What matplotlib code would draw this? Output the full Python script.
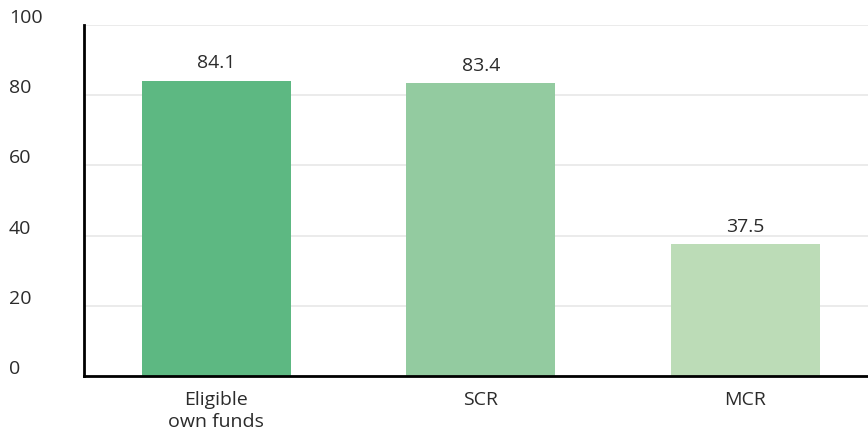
import matplotlib
matplotlib.use("Agg")
import matplotlib.pyplot as plt
import matplotlib.transforms as mtransforms

categories = ["Eligible\nown funds", "SCR", "MCR"]
values = [84.1, 83.4, 37.5]
colors = ["#5db882", "#93cba0", "#bcdcb7"]
yticks = [0, 20, 40, 60, 80, 100]

plt.rcParams['font.family'] = ['Open Sans', 'DejaVu Sans']

fig = plt.figure(figsize=(8.68, 4.36), dpi=100)
ax = fig.add_axes([84/868, 1 - 376/436, (868-84)/868, (376-25)/436])

x = range(len(categories))
ax.bar(x, values, width=0.565, color=colors, zorder=3)
for xi, v in zip(x, values):
    ax.annotate(f"{v}", (xi, v), xytext=(0, 6), textcoords="offset points",
                ha="center", va="bottom", fontsize=14, color="#2b2b2b")

ax.set_xlim(-0.5, 2.464)
ax.set_ylim(0, 100)
ax.set_yticks(yticks)
ax.set_yticklabels([])
ax.tick_params(axis='y', length=0)
ax.tick_params(axis='x', length=0, pad=11)
ax.set_xticks(list(x))
ax.set_xticklabels(categories, fontsize=14, color="#2b2b2b", linespacing=1.25)
ax.grid(axis='y', color="#e8e8e8", linewidth=1.2, zorder=0)

trans = mtransforms.blended_transform_factory(fig.transFigure, ax.transData)
offset = mtransforms.ScaledTranslation(0, 7/100, fig.dpi_scale_trans)
for t in yticks:
    fig.text(9/868, t, str(t), transform=trans + offset, ha="left", va="center",
             fontsize=14, color="#2b2b2b")

for s in ["top", "right"]:
    ax.spines[s].set_visible(False)
for s in ["left", "bottom"]:
    ax.spines[s].set_color("black")
    ax.spines[s].set_linewidth(2)
    ax.spines[s].set_zorder(4)

fig.savefig("out.png", dpi=100)
